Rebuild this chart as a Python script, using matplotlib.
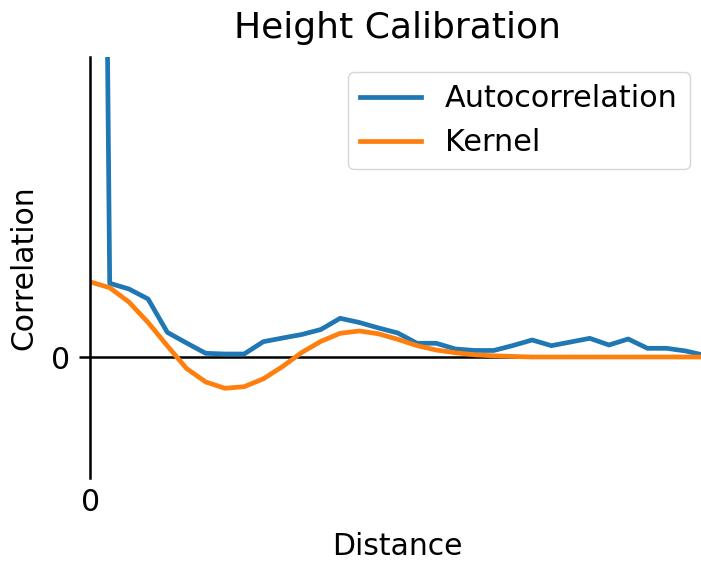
import matplotlib
matplotlib.use("Agg")
import matplotlib.pyplot as plt

# lag index (distance in grid steps)
distance = list(range(33))

autocorrelation = [
    28.0, 0.983, 0.907, 0.773, 0.329, 0.187, 0.049, 0.040, 0.040, 0.204,
    0.253, 0.300, 0.367, 0.516, 0.460, 0.387, 0.320, 0.183, 0.183, 0.107,
    0.087, 0.087, 0.153, 0.227, 0.151, 0.200, 0.249, 0.160, 0.240, 0.116,
    0.116, 0.080, 0.021,
]

kernel = [
    1.000, 0.924, 0.733, 0.460, 0.149, -0.153, -0.333, -0.417, -0.396, -0.291,
    -0.127, 0.060, 0.209, 0.316, 0.347, 0.309, 0.236, 0.152, 0.093, 0.057,
    0.029, 0.016, 0.007, 0.0, 0.0, 0.0, 0.0, 0.0, 0.0, 0.0,
    0.0, 0.0, 0.0,
]

fig = plt.figure(figsize=(7.01, 5.62), dpi=100)
ax = fig.add_axes([0.1291, 0.1495, 0.8766, 0.7491])

ax.axhline(0, color="black", lw=1.8)
ax.plot(distance, autocorrelation, color="#1f77b4", lw=3.4, label="Autocorrelation")
ax.plot(distance, kernel, color="#ff7f0e", lw=3.4, label="Kernel")

ax.set_xlim(0, 32)
ax.set_ylim(-1.613, 4.0)
ax.set_xticks([0])
ax.set_yticks([0])

for side in ["top", "right", "bottom"]:
    ax.spines[side].set_visible(False)
ax.spines["left"].set_linewidth(1.8)

ax.tick_params(axis="x", length=0, pad=7, labelsize=21.5)
ax.tick_params(axis="y", length=8, width=1.8, pad=6.5, labelsize=21.5)

ax.set_title("Height Calibration", fontsize=26, pad=13.5)
ax.set_xlabel("Distance", fontsize=21.5, labelpad=11)
ax.set_ylabel("Correlation", fontsize=21.5, labelpad=9)
ax.legend(loc="upper right", fontsize=21.8)

plt.savefig("out.png", dpi=100)
